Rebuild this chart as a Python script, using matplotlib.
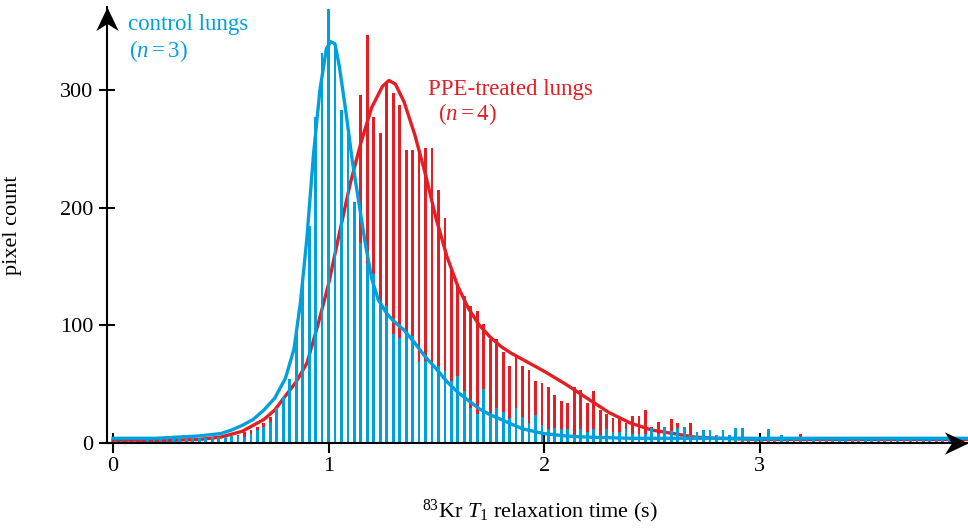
import numpy as np
import matplotlib
matplotlib.use('Agg')
import matplotlib.pyplot as plt
from matplotlib.path import Path

plt.rcParams['font.family'] = 'Liberation Serif'
plt.rcParams['mathtext.fontset'] = 'custom'
plt.rcParams['mathtext.rm'] = 'Liberation Serif'
plt.rcParams['mathtext.it'] = 'Liberation Serif:italic'

blue = '#00a0dc'
red = '#e31e24'

# histogram bins (s)
bin_first = 0.01
bin_step = 0.03

control_counts = [2, 2, 2, 2, 2, 3, 3, 3, 3, 3,
                  3, 3, 4, 4, 4, 5, 5, 5, 6, 6,
                  5, 8, 11, 14, 18, 30, 39, 54, 96, 138,
                  184, 277, 331, 369, 337, 283, 263, 205, 170, 153,
                  144, 121, 116, 93, 89, 93, 91, 69, 70, 68,
                  65, 61, 53, 57, 44, 30, 25, 46, 25, 30,
                  26, 21, 30, 22, 17, 24, 15, 12, 13, 12,
                  12, 7, 12, 9, 12, 7, 12, 9, 9, 12,
                  8, 8, 8, 13, 8, 14, 10, 13, 14, 7,
                  9, 11, 11, 7, 11, 7, 13, 13, 5, 5,
                  5, 12, 5, 7, 4, 4, 4, 4, 4, 4,
                  4, 4, 4, 5, 4, 4, 4, 4, 4, 4,
                  4, 4, 4, 4, 4, 4, 4, 4, 4, 4]

ppe_counts = [1, 1, 1, 1, 1, 1, 2, 2, 2, 2,
              2, 2, 3, 3, 3, 4, 4, 5, 6, 7,
              9, 11, 14, 17, 22, 27, 33, 42, 52, 60,
              70, 88, 110, 132, 160, 185, 205, 200, 296, 347,
              277, 263, 306, 297, 287, 249, 249, 251, 251, 251,
              215, 191, 147, 135, 125, 116, 112, 101, 88, 88,
              77, 65, 75, 65, 62, 53, 51, 48, 41, 36,
              34, 48, 45, 34, 44, 28, 25, 21, 21, 17,
              23, 23, 28, 14, 18, 11, 20, 17, 11, 17,
              8, 5, 5, 4, 4, 3, 3, 3, 3, 3,
              3, 3, 3, 3, 3, 3, 8, 3, 2, 2,
              2, 2, 2, 2, 2, 2, 2, 2, 2, 2,
              2, 2, 2, 2, 2, 2, 2, 2, 2, 2]

# fitted curves
control_fit_t = [0.0, 0.2, 0.4, 0.5, 0.55, 0.6, 0.65, 0.7, 0.75, 0.8, 0.84, 0.87,
                 0.9, 0.93, 0.96, 0.99, 1.01, 1.03, 1.05, 1.08, 1.11, 1.14, 1.17,
                 1.2, 1.23, 1.27, 1.3, 1.35, 1.4, 1.45, 1.5, 1.55, 1.6, 1.65, 1.7,
                 1.75, 1.8, 1.85, 1.9, 2.0, 2.1, 2.2, 2.4, 3.967]
control_fit = [4, 4, 6, 8, 11, 15, 20, 28, 38, 55, 80, 120,
               175, 245, 300, 335, 341, 339, 320, 282, 240, 205, 170,
               140, 122, 110, 104, 96, 85, 73, 63, 52, 43, 36, 29,
               24, 20, 16, 12, 8, 6, 5, 4, 4]

ppe_fit_t = [0.0, 0.2, 0.4, 0.5, 0.6, 0.7, 0.75, 0.8, 0.85, 0.9, 0.95, 1.0,
             1.05, 1.1, 1.15, 1.2, 1.25, 1.28, 1.31, 1.35, 1.4, 1.45, 1.5,
             1.55, 1.6, 1.65, 1.7, 1.75, 1.8, 1.85, 1.9, 2.0, 2.1, 2.2, 2.3,
             2.4, 2.5, 2.6, 2.7, 2.8, 3.0, 3.967]
ppe_fit = [2, 2, 3, 5, 10, 20, 28, 40, 52, 68, 100, 135,
           178, 220, 255, 285, 303, 308, 305, 290, 262, 228, 190,
           158, 133, 114, 100, 90, 82, 76, 71, 61, 50, 38, 26,
           17, 11, 8, 5, 4, 3, 3]

t = bin_first + bin_step * np.arange(len(control_counts))

fig = plt.figure(figsize=(9.68, 5.28), dpi=100)
ax = fig.add_axes([107 / 968, 85 / 528, 861 / 968, 435.5 / 528])
x0, x1 = -0.028, 3.967
ymax = 370
ax.set_xlim(x0, x1)
ax.set_ylim(0, ymax)

ax.bar(t, ppe_counts, width=0.013, color=red, zorder=1)
ax.plot(ppe_fit_t, ppe_fit, color=red, lw=2.4, zorder=2)
ax.bar(t, control_counts, width=0.013, color=blue, zorder=3)
ax.plot(control_fit_t, control_fit, color=blue, lw=2.4, zorder=4)

for s in ['top', 'right']:
    ax.spines[s].set_visible(False)
for s in ['left', 'bottom']:
    ax.spines[s].set_linewidth(1.5)
    ax.spines[s].set_zorder(5)

# stealth arrow heads, tip at the marker position
right_head = Path([(0, 0), (-2, 0.95), (-1.4, 0), (-2, -0.95), (0, 0)],
                  [Path.MOVETO, Path.LINETO, Path.LINETO, Path.LINETO, Path.CLOSEPOLY])
up_head = Path([(0, 0), (0.95, -2), (0, -1.4), (-0.95, -2), (0, 0)],
               [Path.MOVETO, Path.LINETO, Path.LINETO, Path.LINETO, Path.CLOSEPOLY])
ax.plot([x1], [0], marker=right_head, ms=34, color='black', mew=0,
        clip_on=False, zorder=6)
ax.plot([x0], [ymax], marker=up_head, ms=34, color='black', mew=0,
        clip_on=False, zorder=6)

ax.set_xticks([0, 1, 2, 3])
ax.set_yticks([0, 100, 200, 300])
ax.tick_params(axis='x', direction='inout', length=14, width=1.5, labelsize=16, pad=3)
ax.tick_params(axis='y', direction='inout', length=11.5, width=1.5, labelsize=16, pad=4)

ax.set_xlabel(r'$^{83}$Kr $T_1$ relaxation time (s)', fontsize=16)
ax.xaxis.set_label_coords(0.503, -0.125)
ax.set_ylabel('pixel count', fontsize=16)
ax.yaxis.set_label_coords(-0.099, 0.5)

ax.text(0.07, 351, 'control lungs', color=blue, fontsize=16.5, va='baseline')
ax.text(0.072, 328, r'($n = 3$)', color=blue, fontsize=16.5, va='baseline')
ax.text(1.462, 296, 'PPE-treated lungs', color=red, fontsize=16.5, va='baseline')
ax.text(1.508, 274, r'($n = 4$)', color=red, fontsize=16.5, va='baseline')

fig.savefig('out.png', dpi=100)
